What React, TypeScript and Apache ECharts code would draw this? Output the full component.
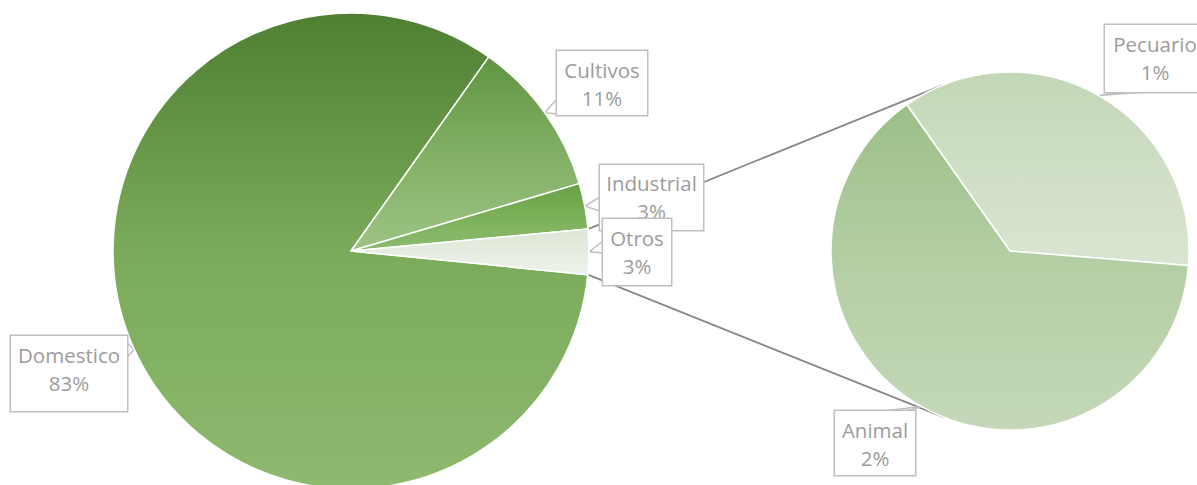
import React, { useEffect, useRef } from 'react';
import * as echarts from 'echarts';

// ---- data ----
const mainCategories = ['Domestico', 'Cultivos', 'Industrial', 'Otros'];
const mainValues = [83.2, 10.6, 3.1]; // Otros = sum of the breakdown below
const subCategories = ['Pecuario', 'Animal'];
const subValues = [1.1, 1.95];

// ---- styles / layout ----
const mainGradients = [
  ['#4f7f31', '#7aab5a', '#8eb96f'],
  ['#5f9540', '#82b065', '#9dc384'],
  ['#66a043', '#7cb15a', '#8cba70'],
  ['#dce6d4', '#e6ede0', '#edf2e9'],
];
const subGradients = [
  ['#c2d7b5', '#cfdfc5', '#d9e5d1'],
  ['#9bbf87', '#b5cfa5', '#c4d8b8'],
];
const MAIN = { cx: 351, cy: 251, r: 238, start: -5.7 };
const SUB = { cx: 1010, cy: 251, r: 179, start: 125.2 };

type Box = { x: number; y: number; w: number; h: number; pt: number; a: number[]; b: number[] };
const mainBoxes: Box[] = [
  { x: 11, y: 336, w: 116, h: 75, pt: 5, a: [127, 343], b: [127, 357] },
  { x: 557, y: 51, w: 90, h: 64, pt: 5, a: [557, 99], b: [566, 115] },
  { x: 600, y: 165, w: 103, h: 65, pt: 4, a: [600, 197], b: [600, 211] },
  { x: 603, y: 219, w: 68, h: 66, pt: 5, a: [603, 241], b: [603, 253] },
];
const subBoxes: Box[] = [
  { x: 1105, y: 25, w: 100, h: 67, pt: 5, a: [1123, 92], b: [1145, 92] },
  { x: 835, y: 411, w: 80, h: 64, pt: 5, a: [884, 411], b: [908, 411] },
];

const FONT = '"Open Sans", "Liberation Sans", sans-serif';
const LINE_H = 28;

function midAngles(values: number[], start: number) {
  const total = values.reduce((s, v) => s + v, 0);
  let cum = 0;
  return values.map((v) => {
    const a = start - ((cum + v / 2) / total) * 360;
    cum += v;
    return a;
  });
}
function edgePoint(c: { cx: number; cy: number; r: number }, deg: number) {
  const t = (deg * Math.PI) / 180;
  return [c.cx + c.r * Math.cos(t), c.cy - c.r * Math.sin(t)];
}
function tangentPoint(p: number[], c: { cx: number; cy: number; r: number }, upper: boolean) {
  const vx = p[0] - c.cx;
  const vy = p[1] - c.cy;
  const d = Math.hypot(vx, vy);
  const phi = Math.atan2(vy, vx);
  const alpha = Math.acos(c.r / d);
  const cands = [phi + alpha, phi - alpha].map((t) => [c.cx + c.r * Math.cos(t), c.cy + c.r * Math.sin(t)]);
  cands.sort((m, n) => m[1] - n[1]);
  return upper ? cands[0] : cands[1];
}

const grad = (c: string[]) => new echarts.graphic.LinearGradient(0, 0, 0, 1, [
  { offset: 0, color: c[0] },
  { offset: 0.5, color: c[1] },
  { offset: 1, color: c[2] },
]);

export default function App() {
  const ref = useRef<HTMLDivElement>(null);
  useEffect(() => {
    if (!ref.current) return;
    const chart = echarts.init(ref.current, undefined, { renderer: 'svg' });
    const otros = subValues.reduce((s, v) => s + v, 0);
    const allMain = [...mainValues, otros];
    const mainTotal = allMain.reduce((s, v) => s + v, 0);
    const mainMid = midAngles(allMain, MAIN.start);
    const subMid = midAngles(subValues, SUB.start);

    // Otros slice edges (last slice, ends at start angle)
    const otrosUpper = edgePoint(MAIN, MAIN.start + (otros / mainTotal) * 360);
    const otrosLower = edgePoint(MAIN, MAIN.start);
    const tUp = tangentPoint(otrosUpper, SUB, true);
    const tLow = tangentPoint(otrosLower, SUB, false);

    const labelBase = {
      show: true,
      position: 'outside',
      color: '#9c9c9c',
      fontFamily: FONT,
      fontSize: 20.5,
      lineHeight: LINE_H,
      backgroundColor: '#ffffff',
      borderColor: '#bfbfbf',
      borderWidth: 1.5,
      overflow: 'none',
      align: 'center',
    };
    const itemLabel = (b: Box) => ({
      width: b.w,
      height: LINE_H * 2,
      padding: [b.pt, 0, b.h - LINE_H * 2 - b.pt, 0],
    });

    const mkLayout = (boxes: Box[], mids: number[], c: typeof MAIN) => (params: any) => {
      const b = boxes[params.dataIndex];
      const tip = edgePoint(c, mids[params.dataIndex]);
      return {
        x: b.x + b.w / 2,
        y: b.y,
        align: 'center',
        verticalAlign: 'top',
        labelLinePoints: [b.a, tip, b.b],
      };
    };

    chart.setOption({
      animation: false,
      backgroundColor: '#ffffff',
      series: [
        {
          type: 'pie',
          silent: true,
          center: [MAIN.cx, MAIN.cy],
          radius: MAIN.r,
          startAngle: MAIN.start,
          avoidLabelOverlap: false,
          itemStyle: { borderColor: '#ffffff', borderWidth: 1.5 },
          label: {
            ...labelBase,
            formatter: (p: any) => `${p.name}\n${Math.round(p.value)}%`,
          },
          labelLine: { show: true, lineStyle: { color: '#bfbfbf', width: 1.5 } },
          labelLayout: mkLayout(mainBoxes, mainMid, MAIN),
          data: mainCategories.map((name, i) => ({
            name,
            value: allMain[i],
            itemStyle: { color: grad(mainGradients[i]) },
            label: itemLabel(mainBoxes[i]),
          })),
          z: 2,
        },
        {
          type: 'pie',
          silent: true,
          center: [SUB.cx, SUB.cy],
          radius: SUB.r,
          startAngle: SUB.start,
          avoidLabelOverlap: false,
          itemStyle: { borderColor: '#ffffff', borderWidth: 1.5 },
          label: {
            ...labelBase,
            formatter: (p: any) => `${p.name}\n${Math.round(p.value)}%`,
          },
          labelLine: { show: true, lineStyle: { color: '#bfbfbf', width: 1.5 } },
          labelLayout: mkLayout(subBoxes, subMid, SUB),
          data: subCategories.map((name, i) => ({
            name,
            value: subValues[i],
            itemStyle: { color: grad(subGradients[i]) },
            label: itemLabel(subBoxes[i]),
          })),
          z: 2,
        },
      ],
      graphic: [
        {
          type: 'line',
          silent: true,
          z: 1,
          shape: { x1: otrosUpper[0], y1: otrosUpper[1], x2: tUp[0], y2: tUp[1] },
          style: { stroke: '#878787', lineWidth: 1.75 },
        },
        {
          type: 'line',
          silent: true,
          z: 1,
          shape: { x1: otrosLower[0], y1: otrosLower[1], x2: tLow[0], y2: tLow[1] },
          style: { stroke: '#878787', lineWidth: 1.75 },
        },
      ],
    });
    return () => chart.dispose();
  }, []);
  return (
    <div
      ref={ref}
      style={{ position: 'fixed', left: 0, top: 0, width: 1197, height: 485 }}
    />
  );
}
